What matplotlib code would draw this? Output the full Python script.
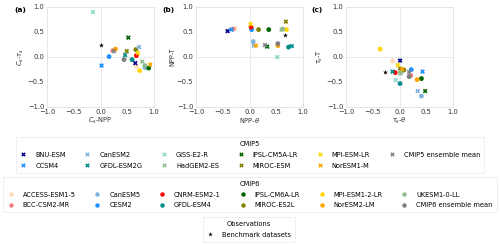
import numpy as np
import matplotlib.pyplot as plt
from matplotlib.lines import Line2D

# CMIP5 models (cross markers)
cmip5_names = ['BNU-ESM', 'CCSM4', 'CanESM2', 'GFDL-ESM2G', 'GISS-E2-R', 'HadGEM2-ES',
               'IPSL-CM5A-LR', 'MIROC-ESM', 'MPI-ESM-LR', 'NorESM1-M', 'CMIP5 ensemble mean']
cmip5_colors = ['#00008b', '#1e90ff', '#7fb2e0', '#008b8b', '#8fd8c8', '#8fbc8f',
                '#006400', '#808000', '#ffd700', '#ffa500', '#808080']
# panel (a) Cs-NPP vs Cs-tau_s
cmip5_a_x = [0.65, 0.02, 0.72, 0.46, -0.14, 0.78, 0.52, 0.49, 0.70, 0.93, 0.25]
cmip5_a_y = [-0.13, -0.18, 0.19, 0.03, 0.89, -0.10, 0.38, 0.11, 0.07, -0.16, 0.11]
# panel (b) NPP-theta vs NPP-T
cmip5_b_x = [-0.41, -0.34, 0.08, 0.79, 0.52, 0.60, 0.33, 0.68, 0.02, 0.12, 0.29]
cmip5_b_y = [0.51, 0.54, 0.22, 0.21, -0.01, 0.54, 0.20, 0.70, 0.65, 0.22, 0.23]
# panel (c) tau_s-theta vs tau_s-T
cmip5_c_x = [0.01, 0.43, 0.34, -0.13, -0.07, 0.01, 0.48, 0.01, -0.03, 0.05, 0.18]
cmip5_c_y = [-0.08, -0.30, -0.69, -0.30, -0.47, -0.34, -0.69, -0.24, -0.17, -0.25, -0.31]

# CMIP6 models (circle markers)
cmip6_names = ['ACCESS-ESM1-5', 'BCC-CSM2-MR', 'CanESM5', 'CESM2', 'CNRM-ESM2-1', 'GFDL-ESM4',
               'IPSL-CM6A-LR', 'MIROC-ES2L', 'MPI-ESM1-2-LR', 'NorESM2-LM', 'UKESM1-0-LL',
               'CMIP6 ensemble mean']
cmip6_colors = ['#ffdab9', '#f08080', '#7fb2e0', '#1e90ff', '#ff0000', '#008b8b',
                '#006400', '#808000', '#ffd700', '#ffa500', '#8fbc8f', '#808080']
cmip6_a_x = [0.67, 0.23, 0.83, 0.16, 0.67, 0.59, 0.90, 0.66, 0.73, 0.28, 0.83, 0.44]
cmip6_a_y = [-0.19, 0.12, -0.22, 0.00, 0.02, -0.06, -0.23, 0.14, -0.28, 0.15, -0.18, -0.06]
cmip6_b_x = [-0.27, -0.31, 0.07, 0.04, 0.03, 0.73, 0.36, 0.17, 0.69, 0.53, 0.62, 0.53]
cmip6_b_y = [0.56, 0.55, 0.30, 0.54, 0.59, 0.19, 0.54, 0.54, 0.54, 0.22, 0.55, 0.26]
cmip6_c_x = [-0.13, 0.21, 0.41, 0.22, -0.08, 0.01, 0.41, 0.08, -0.36, 0.33, 0.03, 0.18]
cmip6_c_y = [-0.09, -0.38, -0.79, -0.26, -0.32, -0.54, -0.44, -0.27, 0.15, -0.46, -0.31, -0.40]

# benchmark (observations)
obs_x = [0.0, 0.67, -0.28]
obs_y = [0.23, 0.43, -0.30]

panels = ['(a)', '(b)', '(c)']
xlabels = ['$C_s$-NPP', 'NPP-$\\theta$', '$\\tau_s$-$\\theta$']
ylabels = ['$C_s$-$\\tau_s$', 'NPP-T', '$\\tau_s$-T']
c5x = [cmip5_a_x, cmip5_b_x, cmip5_c_x]
c5y = [cmip5_a_y, cmip5_b_y, cmip5_c_y]
c6x = [cmip6_a_x, cmip6_b_x, cmip6_c_x]
c6y = [cmip6_a_y, cmip6_b_y, cmip6_c_y]

plt.rcParams['font.family'] = 'DejaVu Sans'
plt.rcParams['mathtext.fontset'] = 'dejavusans'
fs = 4.75

fig = plt.figure(figsize=(5, 2.45), dpi=100)
lefts = [0.094, 0.392, 0.692]
label_x = [0.028, 0.324, 0.622]
for i in range(3):
    ax = fig.add_axes([lefts[i], 0.565, 0.214, 0.408])
    ax.axhline(0, color='#e6e6e6', lw=0.6, zorder=0)
    ax.axvline(0, color='#e6e6e6', lw=0.6, zorder=0)
    ax.scatter(c6x[i], c6y[i], c=cmip6_colors, marker='o', s=12, linewidths=0, zorder=2)
    ax.scatter(c5x[i], c5y[i], c=cmip5_colors, marker='X', s=12, linewidths=0, zorder=3)
    ax.scatter(obs_x[i], obs_y[i], c='k', marker='*', s=14, linewidths=0, zorder=4)
    ax.set_xlim(-1, 1)
    ax.set_ylim(-1, 1)
    ax.set_xticks([-1, -0.5, 0, 0.5, 1])
    ax.set_yticks([-1, -0.5, 0, 0.5, 1])
    ax.tick_params(length=0, pad=2, labelsize=4.9, colors='#333333')
    for sp in ax.spines.values():
        sp.set_color('#e0e0e0')
        sp.set_linewidth(0.6)
    ax.set_xlabel(xlabels[i], fontsize=fs, labelpad=0.5, color='#333333')
    ax.set_ylabel(ylabels[i], fontsize=fs, labelpad=1, color='#333333')
    fig.text(label_x[i], 0.958, panels[i], fontsize=5.4, fontweight='bold', va='center')

h5 = [Line2D([], [], ls='', marker='X', ms=3.2, mew=0, color=c) for c in cmip5_colors]
h6 = [Line2D([], [], ls='', marker='o', ms=3.2, mew=0, color=c) for c in cmip6_colors]
ho = [Line2D([], [], ls='', marker='*', ms=3.4, mew=0, color='k')]

common = dict(frameon=True, fontsize=fs, title_fontsize=fs, handlelength=1.0,
              handletextpad=1.3, borderpad=0.6, labelspacing=0.75,
              edgecolor='#e8e8e8', fancybox=False)
l5 = fig.legend(h5, cmip5_names, title='CMIP5', ncol=6, loc='center',
                bbox_to_anchor=(0.5, 0.369), columnspacing=2.8, **common)
l6 = fig.legend(h6, cmip6_names, title='CMIP6', ncol=6, loc='center',
                bbox_to_anchor=(0.5, 0.206), columnspacing=2.8, **common)
lo = fig.legend(ho, ['Benchmark datasets'], title='Observations', loc='center',
                bbox_to_anchor=(0.498, 0.065), **common)
for lg in (l5, l6, lo):
    lg.get_frame().set_linewidth(0.6)

fig.savefig('out.png', dpi=100)
